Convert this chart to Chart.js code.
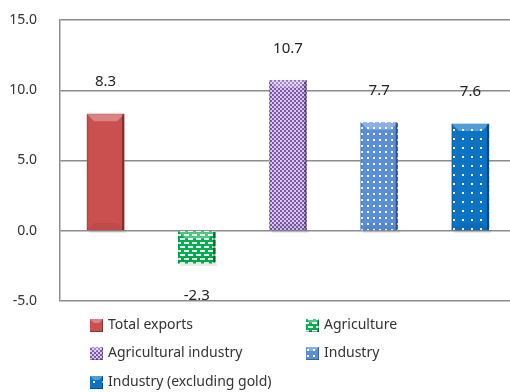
<!DOCTYPE html>
<html>
<head>
<meta charset="utf-8">
<script src="https://cdn.jsdelivr.net/npm/chart.js@4/dist/chart.umd.min.js"></script>
<style>
  html, body { margin: 0; padding: 0; background: #fff; overflow: hidden; }
  #wrap { width: 510px; height: 392px; overflow: hidden; }
  #wrap canvas { display: block; }
</style>
</head>
<body>
<div id="wrap"><canvas id="exportsChart" width="516" height="392"></canvas></div>
<script>
// Export growth by sector (%)
const categories = ['Total exports', 'Agriculture', 'Agricultural industry', 'Industry', 'Industry (excluding gold)'];
const growth = [8.3, -2.3, 10.7, 7.7, 7.6];
const yTicks = [-5, 0, 5, 10, 15];
const baseColors = ['#c9504e', '#00b050', '#8f6fb4', '#5a8fd8', '#0b72c4'];

const FONT = '"Noto Sans", "DejaVu Sans", sans-serif';

// Small tile patterns, like the Excel fills
function makeTile(size, draw) {
    const c = document.createElement('canvas');
    c.width = size; c.height = size;
    const g = c.getContext('2d');
    draw(g, size);
    return g.createPattern(c, 'repeat');
}

const fills = [
    baseColors[0],
    makeTile(8, (g, s) => { // green with white dashes
        g.fillStyle = baseColors[1]; g.fillRect(0, 0, s, s);
        g.fillStyle = '#e8fff0';
        g.fillRect(0, 2, 5, 2);
        g.fillRect(4, 6, 4, 2); g.fillRect(0, 6, 1, 2);
    }),
    makeTile(4, (g, s) => { // purple checkerboard
        g.fillStyle = '#7a5aa6'; g.fillRect(0, 0, s, s);
        g.fillStyle = '#dcc6f2';
        g.fillRect(0, 0, 2, 2); g.fillRect(2, 2, 2, 2);
    }),
    makeTile(6, (g, s) => { // blue with white dots
        g.fillStyle = baseColors[3]; g.fillRect(0, 0, s, s);
        g.fillStyle = '#ffffff';
        g.fillRect(1, 1, 2, 2);
    }),
    makeTile(9, (g, s) => { // darker blue, sparse dots
        g.fillStyle = baseColors[4]; g.fillRect(0, 0, s, s);
        g.fillStyle = '#ffffff';
        g.fillRect(3, 3, 2, 2);
    })
];

// Bevel look on each bar
const bevelPlugin = {
    id: 'bevel',
    afterDatasetsDraw(chart) {
        const ctx = chart.ctx;
        chart.data.datasets.forEach((ds, i) => {
            chart.getDatasetMeta(i).data.forEach((el, j) => {
                if (ds.data[j] == null) return;
                const w = el.width, x0 = el.x - w / 2, x1 = el.x + w / 2;
                const top = Math.min(el.y, el.base), bot = Math.max(el.y, el.base);
                const b = 7;
                ctx.save();
                // top facet
                ctx.fillStyle = 'rgba(255,255,255,0.3)';
                ctx.beginPath();
                ctx.moveTo(x0, top); ctx.lineTo(x1, top); ctx.lineTo(x1 - b, top + b); ctx.lineTo(x0 + b, top + b);
                ctx.fill();
                // bottom facet
                ctx.fillStyle = 'rgba(0,0,0,0.06)';
                ctx.beginPath();
                ctx.moveTo(x0, bot); ctx.lineTo(x1, bot); ctx.lineTo(x1 - b, bot - b); ctx.lineTo(x0 + b, bot - b);
                ctx.fill();
                // right edge shadow
                ctx.fillStyle = 'rgba(0,0,0,0.4)';
                ctx.fillRect(x1 - 2, top, 2, bot - top);
                ctx.fillStyle = 'rgba(0,0,0,0.15)';
                ctx.fillRect(x0, top, 1, bot - top);
                // soft drop shadow under the bar
                ctx.fillStyle = 'rgba(0,0,0,0.08)';
                ctx.fillRect(x0 + 2, bot, w, 3);
                ctx.restore();
            });
        });
    }
};

// Value labels above / below each bar
const valueLabels = {
    id: 'valueLabels',
    afterDatasetsDraw(chart) {
        const ctx = chart.ctx;
        ctx.save();
        ctx.font = '15px ' + FONT;
        ctx.fillStyle = '#222';
        ctx.textAlign = 'center';
        ctx.textBaseline = 'middle';
        chart.data.datasets.forEach((ds, i) => {
            chart.getDatasetMeta(i).data.forEach((el, j) => {
                const v = ds.data[j];
                if (v == null) return;
                const y = v >= 0 ? el.y - 32 : el.y + 33;
                ctx.fillText(v.toFixed(1), el.x, y);
            });
        });
        ctx.restore();
    }
};

// Two-column legend under the plot
const gridLegend = {
    id: 'gridLegend',
    afterDraw(chart) {
        const ctx = chart.ctx;
        const cols = [90, 306];
        const rows = [325, 353, 382];
        ctx.save();
        ctx.font = '14px ' + FONT;
        ctx.textBaseline = 'middle';
        chart.data.datasets.forEach((ds, i) => {
            const x = cols[i % 2], y = rows[Math.floor(i / 2)];
            ctx.fillStyle = ds.backgroundColor;
            ctx.fillRect(x, y - 6, 13, 13);
            ctx.fillStyle = 'rgba(255,255,255,0.3)';
            ctx.beginPath();
            ctx.moveTo(x, y - 6); ctx.lineTo(x + 13, y - 6); ctx.lineTo(x + 9, y - 2); ctx.lineTo(x + 4, y - 2);
            ctx.fill();
            ctx.fillStyle = 'rgba(0,0,0,0.3)';
            ctx.fillRect(x + 12, y - 6, 1, 13);
            ctx.fillRect(x, y + 6, 13, 1);
            ctx.fillStyle = '#333';
            ctx.fillText(ds.label, x + 18, y);
        });
        ctx.restore();
    }
};

const datasets = categories.map((name, i) => ({
    label: name,
    data: categories.map((_, j) => (j === i ? growth[i] : null)),
    backgroundColor: fills[i],
    borderWidth: 0,
    barThickness: 37,
    grouped: false
}));

new Chart(document.getElementById('exportsChart'), {
    type: 'bar',
    data: { labels: categories, datasets },
    options: {
        responsive: false,
        animation: false,
        layout: { padding: { top: 20, bottom: 91, left: 0, right: 0 } },
        plugins: { legend: { display: false }, tooltip: { enabled: false } },
        scales: {
            x: { display: false },
            y: {
                min: -5,
                max: 15,
                afterBuildTicks: (scale) => { scale.ticks = yTicks.map(v => ({ value: v })); },
                afterFit: (scale) => {
                    scale.width = 60;
                    scale.paddingTop = 0;
                    scale.paddingBottom = 0;
                },
                ticks: {
                    padding: 23,
                    color: '#333',
                    font: { family: FONT, size: 14 },
                    callback: (v) => Number(v).toFixed(1)
                },
                grid: { color: '#8c8c8c', lineWidth: 1.5, drawTicks: false },
                border: { display: true, color: '#8c8c8c', width: 1.5 }
            }
        }
    },
    plugins: [bevelPlugin, valueLabels, gridLegend]
});
</script>
</body>
</html>
